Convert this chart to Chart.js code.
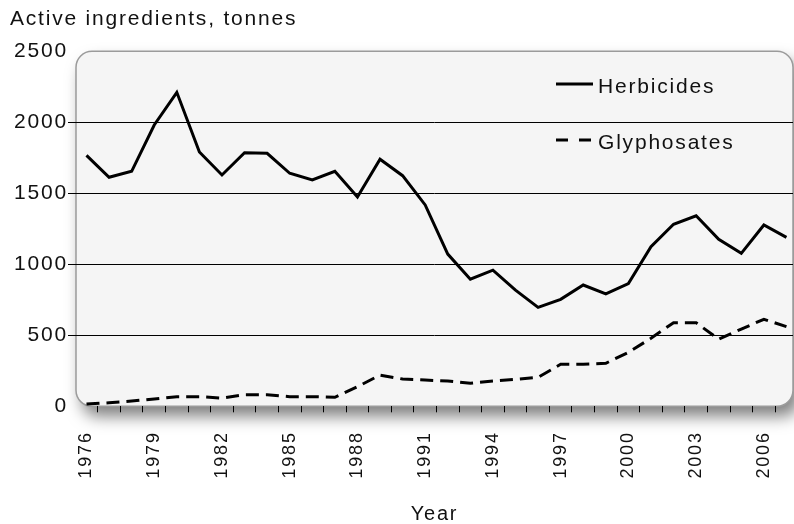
<!DOCTYPE html>
<html>
<head>
<meta charset="utf-8">
<script src="https://cdn.jsdelivr.net/npm/chart.js@4.4.1/dist/chart.umd.min.js"></script>
<style>
  html, body { margin: 0; padding: 0; background: #fff; }
  #wrap { width: 794px; height: 524px; }
</style>
</head>
<body>
<div id="wrap"><canvas id="chart" width="794" height="524"></canvas></div>
<script>
// Herbicides and glyphosates, active ingredients in tonnes per year

const years = [1976, 1977, 1978, 1979, 1980, 1981, 1982, 1983, 1984, 1985, 1986,
  1987, 1988, 1989, 1990, 1991, 1992, 1993, 1994, 1995, 1996, 1997, 1998, 1999,
  2000, 2001, 2002, 2003, 2004, 2005, 2006, 2007];

const herbicides = [1767, 1613, 1655, 1981, 2211, 1791, 1629, 1786, 1782, 1641,
  1594, 1655, 1474, 1740, 1624, 1418, 1072, 895, 959, 818, 697, 753, 854, 791,
  864, 1124, 1282, 1342, 1176, 1077, 1277, 1190];

const glyphosates = [16, 25, 37, 51, 68, 68, 58, 82, 82, 68, 68, 63, 138, 220,
  192, 185, 178, 162, 178, 190, 204, 296, 296, 303, 380, 479, 589, 589, 472,
  544, 613, 561];

const labeledYears = [1976, 1979, 1982, 1985, 1988, 1991, 1994, 1997, 2000, 2003, 2006];
const yTicks = [0, 500, 1000, 1500, 2000, 2500];

const FONT = '"Liberation Sans", Arial, Helvetica, sans-serif';
const SPACING = "1.8px";

Chart.defaults.font.family = FONT;
Chart.defaults.color = "#111";

// the reference uses a wide face, so spread the letters a bit
const spacingPlugin = {
  id: "spacing",
  beforeLayout(chart) { chart.ctx.letterSpacing = SPACING; },
  beforeDraw(chart) { chart.ctx.letterSpacing = SPACING; },
};

// rounded grey plot frame with a soft drop shadow
const framePlugin = {
  id: "frame",
  beforeDraw(chart) {
    const { ctx, chartArea: a } = chart;
    ctx.save();
    ctx.beginPath();
    ctx.roundRect(a.left, a.top, a.right - a.left, a.bottom - a.top, 16);
    ctx.shadowColor = "rgba(0, 0, 0, 0.5)";
    ctx.shadowBlur = 16;
    ctx.shadowOffsetX = 6;
    ctx.shadowOffsetY = 10;
    ctx.fillStyle = "#f5f5f5";
    ctx.fill();
    ctx.shadowColor = "transparent";
    ctx.lineWidth = 1.5;
    ctx.strokeStyle = "#9b9b9b";
    ctx.stroke();
    ctx.restore();
  },
};

// legend stacked inside the plot, top right
const legendPlugin = {
  id: "innerLegend",
  afterDatasetsDraw(chart) {
    const ctx = chart.ctx;
    const rows = [84, 140];
    ctx.save();
    chart.data.datasets.forEach((ds, i) => {
      const y = rows[i];
      ctx.beginPath();
      ctx.setLineDash(ds.borderDash ? [12, 11] : []);
      ctx.lineWidth = 3;
      ctx.strokeStyle = ds.borderColor;
      ctx.moveTo(556, y);
      ctx.lineTo(593, y);
      ctx.stroke();
      ctx.setLineDash([]);
      ctx.letterSpacing = SPACING;
      ctx.font = "21px " + FONT;
      ctx.fillStyle = "#111";
      ctx.textAlign = "left";
      ctx.textBaseline = "middle";
      ctx.fillText(ds.label, 598, y + 3);
    });
    ctx.restore();
  },
};

const toPoints = (vals) => vals.map((v, i) => ({ x: years[i], y: v }));

new Chart(document.getElementById("chart"), {
  type: "line",
  data: {
    datasets: [
      {
        label: "Herbicides",
        data: toPoints(herbicides),
        borderColor: "#000",
        borderWidth: 3,
        pointRadius: 0,
        tension: 0,
        borderJoinStyle: "miter",
      },
      {
        label: "Glyphosates",
        data: toPoints(glyphosates),
        borderColor: "#000",
        borderWidth: 3,
        borderDash: [13, 7],
        pointRadius: 0,
        tension: 0,
        borderJoinStyle: "miter",
      },
    ],
  },
  options: {
    responsive: false,
    animation: false,
    events: [],
    layout: { padding: { left: 10, right: 1, top: 0, bottom: 0 } },
    plugins: {
      legend: { display: false },
      tooltip: { enabled: false },
      title: {
        display: true,
        text: "Active ingredients, tonnes",
        align: "start",
        color: "#111",
        font: { size: 21, weight: "normal", lineHeight: 1.2 },
        padding: { top: 6.5, bottom: 19.6 },
      },
    },
    scales: {
      x: {
        type: "linear",
        min: 1975.535,
        max: 2007.29,
        afterBuildTicks(scale) {
          const t = [];
          years.forEach((y) => {
            t.push({ value: y });
            if (y < years[years.length - 1]) t.push({ value: y + 0.5 });
          });
          scale.ticks = t;
        },
        afterFit(scale) {
          scale.height = 117.7;
          scale.paddingLeft = 0;
          scale.paddingRight = 0;
        },
        border: { display: false },
        grid: {
          drawOnChartArea: false,
          drawTicks: true,
          tickLength: 6,
          lineWidth: 1,
          tickColor: (c) => (Number.isInteger(c.tick.value) ? "rgba(0,0,0,0)" : "#000"),
        },
        ticks: {
          autoSkip: false,
          minRotation: 90,
          maxRotation: 90,
          padding: 19,
          color: "#111",
          font: { size: 18 },
          callback: (v) => (labeledYears.includes(v) ? String(v) : ""),
        },
        title: {
          display: true,
          text: "Year",
          color: "#111",
          font: { size: 20, lineHeight: 1 },
          padding: { top: 0, bottom: 0 },
        },
      },
      y: {
        min: 0,
        max: 2500,
        afterBuildTicks(scale) {
          scale.ticks = yTicks.map((v) => ({ value: v }));
        },
        afterFit(scale) {
          scale.width = 66;
          scale.paddingTop = 0;
          scale.paddingBottom = 0;
        },
        border: { display: false },
        grid: {
          lineWidth: 1,
          tickLength: 8,
          color: (c) => (c.tick.value === 0 || c.tick.value === 2500 ? "rgba(0,0,0,0)" : "#000"),
        },
        ticks: {
          padding: 0,
          color: "#111",
          font: { size: 21 },
          callback: (v) => String(v),
        },
      },
    },
  },
  plugins: [spacingPlugin, framePlugin, legendPlugin],
});
</script>
</body>
</html>
